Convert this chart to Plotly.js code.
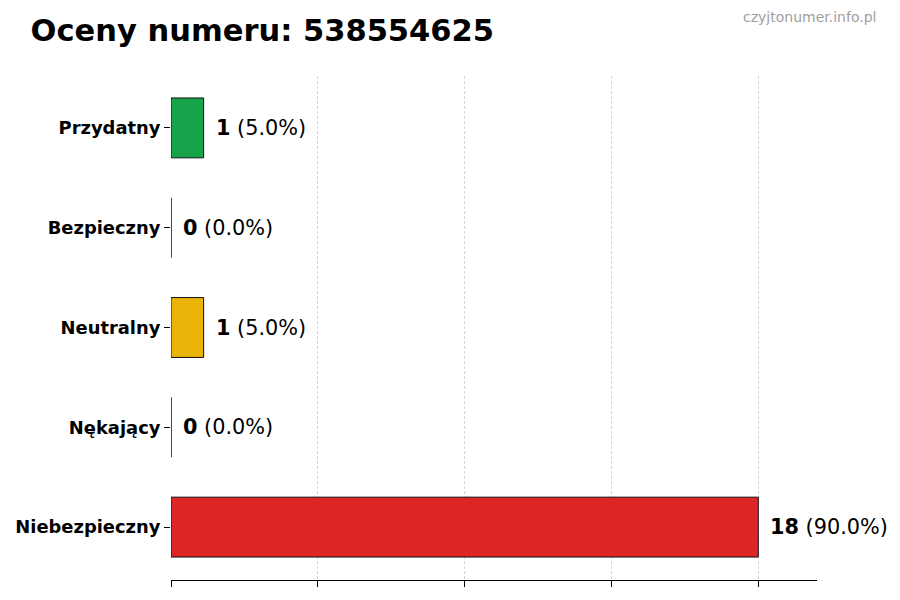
<!DOCTYPE html>
<html>
<head>
<meta charset="utf-8">
<script src="https://cdn.plot.ly/plotly-3.0.1.min.js"></script>
<style>html,body{margin:0;padding:0;background:#fff;}#chart{width:900px;height:600px;}</style>
</head>
<body>
<div id="chart"></div>
<script>
const categories = ["Przydatny", "Bezpieczny", "Neutralny", "Nękający", "Niebezpieczny"];
const counts = [1, 0, 1, 0, 18];
const percents = [5.0, 0.0, 5.0, 0.0, 90.0];
const colors = ["#16a34a", "#2563eb", "#eab308", "#f97316", "#dc2626"];

const font = "DejaVu Sans, sans-serif";

const trace = {
  type: "bar",
  orientation: "h",
  y: categories,
  x: counts,
  width: 0.6,
  marker: {color: colors, line: {color: "#111111", width: 1}},
  hoverinfo: "none"
};

const annotations = categories.map((c, i) => ({
  x: counts[i], y: c, xref: "x", yref: "y",
  xanchor: "left", yanchor: "middle", xshift: 10,
  text: "<b>" + counts[i] + "</b> (" + percents[i].toFixed(1) + "%)",
  showarrow: false,
  font: {family: font, size: 20.8, color: "#000"}
}));
annotations.push({
  xref: "paper", yref: "paper", x: 1.094, y: 1.117,
  xanchor: "right", yanchor: "middle",
  text: "czyjtonumer.info.pl", showarrow: false,
  font: {family: font, size: 14, color: "#a0a0a0"}
});

const layout = {
  width: 900, height: 600,
  margin: {l: 171, r: 83, t: 76, b: 20},
  paper_bgcolor: "#fff", plot_bgcolor: "#fff",
  showlegend: false,
  title: {text: "<b>Oceny numeru: 538554625</b>", x: 0.034, xanchor: "left", y: 0.95, yanchor: "middle",
          font: {family: font, size: 30.5, color: "#000"}},
  xaxis: {
    range: [0, 19.8], tickvals: [0, 4.5, 9, 13.5, 18], showticklabels: false,
    showgrid: true, gridcolor: "#d6d6d6", griddash: "3px,2px", gridwidth: 1,
    zeroline: false, showline: true, linecolor: "#000", linewidth: 1,
    ticks: "outside", ticklen: 6, tickcolor: "#000", fixedrange: true
  },
  yaxis: {
    type: "category", range: [4.53, -0.52],
    showgrid: false, zeroline: false, showline: false,
    ticks: "outside", ticklen: 6, tickcolor: "#000",
    tickfont: {family: font, size: 17.9, color: "#000", weight: "bold"},
    fixedrange: true
  },
  annotations: annotations
};

Plotly.newPlot("chart", [trace], layout, {displayModeBar: false, staticPlot: true});
</script>
</body>
</html>
